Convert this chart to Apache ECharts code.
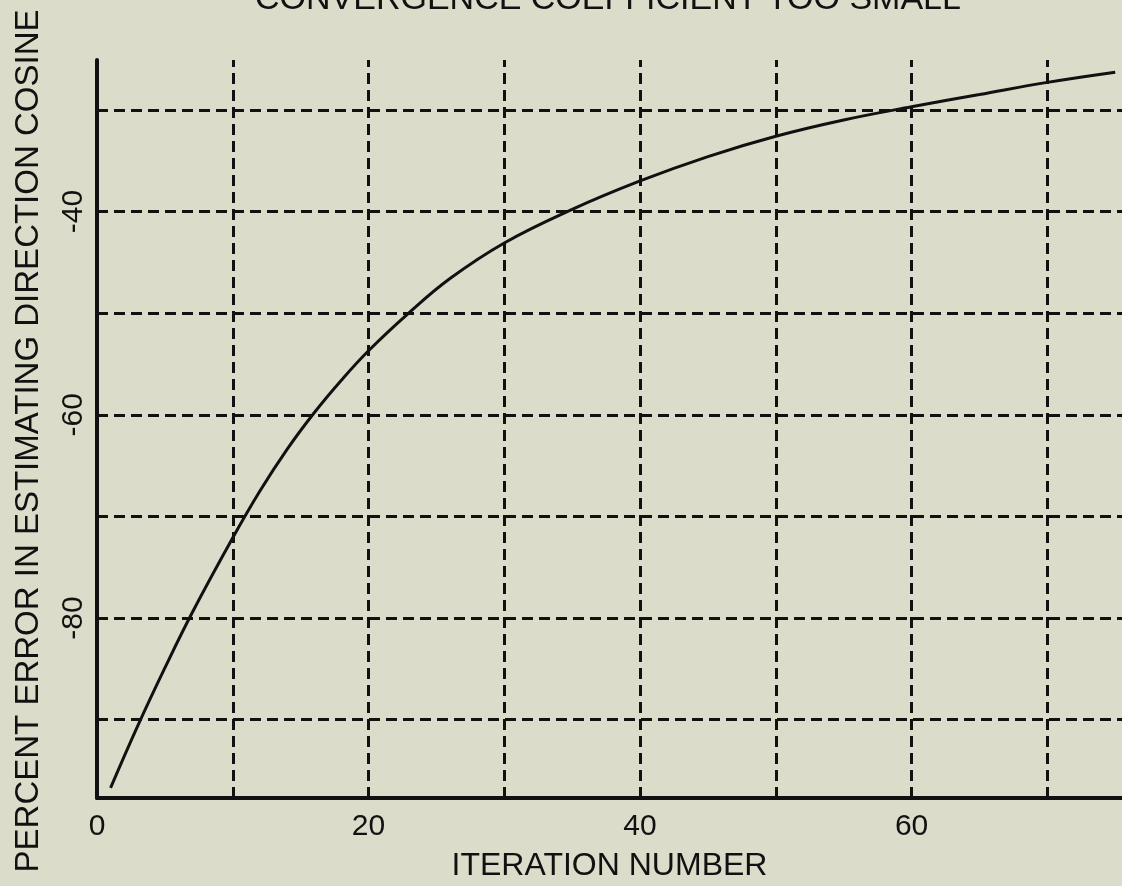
<!DOCTYPE html>
<html>
<head>
<meta charset="utf-8">
<script src="https://cdn.jsdelivr.net/npm/echarts@6/dist/echarts.min.js"></script>
<style>
html,body{margin:0;padding:0;background:#dcdcca;}
#chart{width:1122px;height:886px;}
</style>
</head>
<body>
<div id="chart"></div>
<script>
// Data
const iterations = [1, 3, 5, 7, 10, 12, 14, 16, 18, 20, 23, 26, 30, 35, 40, 45, 50, 55, 60, 65, 70, 75];
const percentError = [-96.7, -90.6, -84.9, -79.5, -72.1, -67.5, -63.4, -59.8, -56.6, -53.7, -49.95, -46.6, -43.1, -39.8, -37.0, -34.6, -32.6, -31.0, -29.7, -28.5, -27.3, -26.3];
const xTickLabels = [0, 20, 40, 60];
const yTickLabels = [-40, -60, -80];
const gridX = [10, 20, 30, 40, 50, 60, 70];
const gridY = [-30, -40, -50, -60, -70, -80, -90];

const FONT = '"Liberation Sans", Arial, sans-serif';
const INK = '#111111';

const chart = echarts.init(document.getElementById('chart'));
const points = iterations.map((x, i) => [x, percentError[i]]);
const gridLineStyle = {color: INK, width: 3, type: [11, 6]};

chart.setOption({
  backgroundColor: '#dcdcca',
  animation: false,
  title: {
    text: 'CONVERGENCE COEFFICIENT TOO SMALL',
    left: 250,
    top: -22,
    textStyle: {fontFamily: FONT, fontSize: 34, fontWeight: 'normal', color: INK}
  },
  grid: {left: 97, right: 0, top: 60, bottom: 88, containLabel: false, outerBoundsMode: 'none'},
  xAxis: {
    type: 'value',
    min: 0,
    max: 75.5,
    name: 'ITERATION NUMBER',
    nameLocation: 'middle',
    nameGap: 52,
    nameTextStyle: {fontFamily: FONT, fontSize: 32, color: INK},
    axisLine: {show: true, onZero: false, lineStyle: {color: INK, width: 4}},
    axisTick: {show: false},
    splitLine: {show: false},
    axisLabel: {
      customValues: xTickLabels,
      fontFamily: FONT, fontSize: 30, color: INK, margin: 14,
      formatter: v => String(v)
    }
  },
  yAxis: {
    type: 'value',
    min: -97.7,
    max: -25.1,
    name: 'PERCENT ERROR IN ESTIMATING DIRECTION COSINE',
    nameLocation: 'middle',
    nameGap: 52,
    nameTextStyle: {fontFamily: FONT, fontSize: 33, color: INK, padding: [0, 24, 0, 0]},
    axisLine: {show: true, onZero: false, lineStyle: {color: INK, width: 4}},
    axisTick: {show: false},
    splitLine: {show: false},
    axisLabel: {
      customValues: yTickLabels,
      rotate: 90,
      fontFamily: FONT, fontSize: 30, color: INK, margin: 8,
      formatter: v => String(v)
    }
  },
  series: [{
    type: 'line',
    data: points,
    showSymbol: false,
    smooth: 0.4,
    lineStyle: {color: INK, width: 3},
    markLine: {
      silent: true,
      symbol: 'none',
      label: {show: false},
      lineStyle: gridLineStyle,
      data: gridX.map(v => ({xAxis: v})).concat(gridY.map(v => ({yAxis: v})))
    },
    z: 3
  }]
});
</script>
</body>
</html>
